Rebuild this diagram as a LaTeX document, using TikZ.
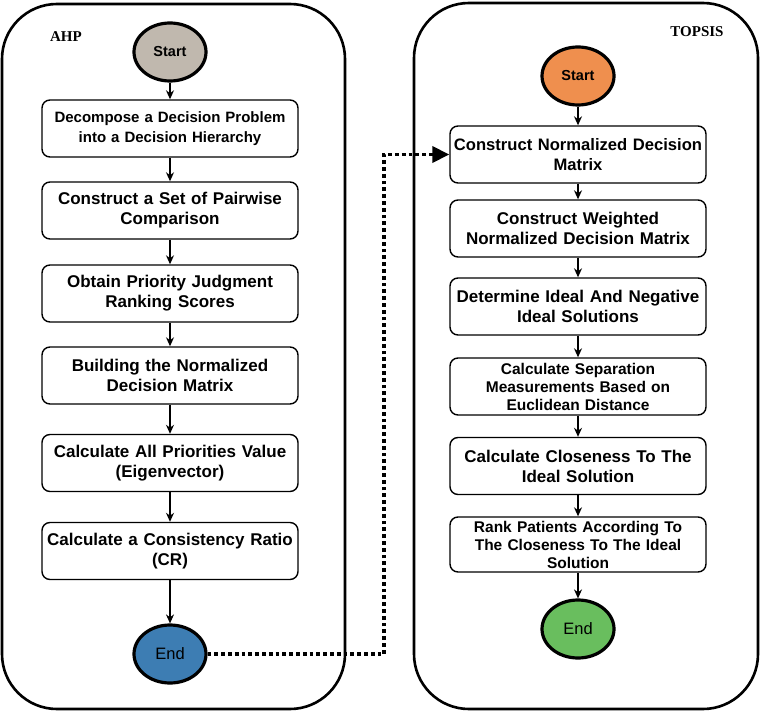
\documentclass[tikz,border=0pt]{standalone}
\usepackage{fontspec}
\setmainfont{Liberation Sans}
\newfontfamily\serifb{Liberation Serif}
\usetikzlibrary{shapes.geometric,arrows.meta}
\definecolor{startgray}{HTML}{C0B8AE}
\definecolor{startorange}{HTML}{EF8F4E}
\definecolor{endblue}{HTML}{3D7DB3}
\definecolor{endgreen}{HTML}{69BE5E}
\hyphenpenalty=10000
\tikzset{
  container/.style={draw=black, line width=2.6pt, rounded corners=55pt},
  stepbox/.style={draw=black, line width=1.4pt, rounded corners=8pt, fill=white,
    minimum width=256pt, minimum height=57pt, text width=256pt, align=center,
    inner sep=0pt, font=\bfseries\fontsize{17}{20}\selectfont},
  smallbox/.style={stepbox, font=\bfseries\fontsize{15.5}{18}\selectfont},
  termnode/.style={ellipse, draw=black, line width=3.2pt, minimum width=72pt,
    minimum height=58pt, inner sep=0pt},
  flow/.style={line width=1.3pt, -{Stealth[length=9pt,width=8pt]}},
  link/.style={line width=3.8pt, dash pattern=on 3.8pt off 3pt,
    -{Triangle[length=17pt,width=16pt]}},
  title/.style={font=\serifb\bfseries\fontsize{15}{18}\selectfont}
}
\begin{document}
\begin{tikzpicture}[x=1pt,y=-1pt]
\useasboundingbox (0,0) rectangle (762,714);
% containers
\draw[container] (2,4) rectangle (345,709);
\draw[container] (414,3) rectangle (758,709);
\node[title] (ahp) at (66,37) {AHP};
\node[title] (topsis) at (697,32) {TOPSIS};
% AHP column
\node[termnode, fill=startgray, font=\bfseries\fontsize{14.5}{17}\selectfont] (startL) at (170,52) {Start};
\node[stepbox, font=\bfseries\fontsize{15}{20}\selectfont] (a1) at (170,128.5) {Decompose a Decision Problem\\into a Decision Hierarchy};
\node[stepbox] (a2) at (170,210.5) {Construct a Set of Pairwise\\Comparison};
\node[stepbox] (a3) at (170,293.5) {Obtain Priority Judgment\\Ranking Scores};
\node[stepbox] (a4) at (170,375.5) {Building the Normalized\\Decision Matrix};
\node[stepbox] (a5) at (170,463) {Calculate All Priorities Value\\(Eigenvector)};
\node[stepbox] (a6) at (170,551) {Calculate a Consistency Ratio\\(CR)};
\node[termnode, fill=endblue, font=\fontsize{16.5}{19}\selectfont] (endL) at (170,654) {End};
% TOPSIS column
\node[termnode, fill=startorange, font=\bfseries\fontsize{14.5}{17}\selectfont] (startR) at (578,76) {Start};
\node[stepbox, font=\bfseries\fontsize{16.6}{20}\selectfont] (t1) at (578,154.5) {Construct Normalized Decision\\Matrix};
\node[stepbox] (t2) at (578,228.5) {Construct Weighted\\Normalized Decision Matrix};
\node[stepbox] (t3) at (578,306.5) {Determine Ideal And Negative\\Ideal Solutions};
\node[smallbox] (t4) at (578,386.5) {Calculate Separation\\Measurements Based on\\Euclidean Distance};
\node[stepbox] (t5) at (578,466) {Calculate Closeness To The\\Ideal Solution};
\node[smallbox, minimum height=55pt] (t6) at (578,544.5) {Rank Patients According To\\The Closeness To The Ideal\\Solution};
\node[termnode, fill=endgreen, font=\fontsize{16.5}{19}\selectfont] (endR) at (578,629) {End};
% flows
\draw[flow] (startL) -- (a1);
\draw[flow] (a1) -- (a2);
\draw[flow] (a2) -- (a3);
\draw[flow] (a3) -- (a4);
\draw[flow] (a4) -- (a5);
\draw[flow] (a5) -- (a6);
\draw[flow] (a6) -- (endL);
\draw[flow] (startR) -- (t1);
\draw[flow] (t1) -- (t2);
\draw[flow] (t2) -- (t3);
\draw[flow] (t3) -- (t4);
\draw[flow] (t4) -- (t5);
\draw[flow] (t5) -- (t6);
\draw[flow] (t6) -- (endR);
% dotted link
\coordinate (d1) at (384,654);
\coordinate (d2) at (384,154.5);
\draw[link] (endL.east) -- (d1) -- (d2) -- (t1.west);
\end{tikzpicture}
\end{document}
